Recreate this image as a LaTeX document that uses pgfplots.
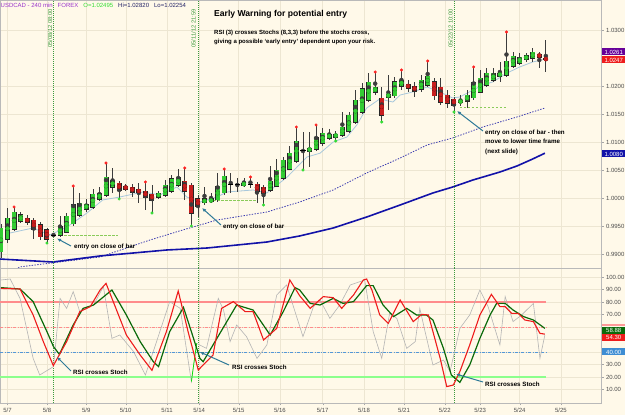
\documentclass[border=0pt]{standalone}
\usepackage{pgfplots}
\pgfplotsset{compat=1.18}
\usepackage{pgfplotstable}
\usepackage{fontspec}
\setmainfont{Liberation Sans}
\usetikzlibrary{arrows.meta}

\definecolor{bg}{HTML}{FFF9E9}
\definecolor{gridc}{HTML}{EDE6D2}
\definecolor{bull}{HTML}{33CC33}
\definecolor{bear}{HTML}{C81E1E}
\definecolor{wick}{HTML}{3C3C3C}
\definecolor{mafast}{HTML}{A8C8DC}
\definecolor{mamid}{HTML}{3A3AB0}
\definecolor{maslow}{HTML}{1212A8}
\definecolor{entryc}{HTML}{8ACB5A}
\definecolor{vline}{HTML}{3C9A3C}
\definecolor{arrowc}{HTML}{2E7A98}
\definecolor{hdrpurple}{HTML}{9933CC}
\definecolor{hdrgreen}{HTML}{33DD33}
\definecolor{hdrnavy}{HTML}{222266}
\definecolor{rsired}{HTML}{EE1C1C}
\definecolor{stochgreen}{HTML}{0A6A0A}
\definecolor{rawgray}{HTML}{B4B4B4}
\definecolor{hiDot}{HTML}{FF2020}
\definecolor{loDot}{HTML}{33DD33}

% 240-minute USDCAD bars: index, open, high, low, close
\pgfplotstableread{
i o h l c
0 0.99036 0.99536 0.98929 0.99464
1 0.99268 0.99822 0.99196 0.99643
2 0.99446 0.99840 0.99411 0.99750
3 0.99589 0.99750 0.99553 0.99697
4 0.99643 0.99697 0.99518 0.99571
5 0.99607 0.99643 0.99268 0.99429
6 0.99518 0.99571 0.99250 0.99304
7 0.99429 0.99464 0.99196 0.99268
8 0.99339 0.99375 0.99304 0.99339
9 0.99339 0.99679 0.99304 0.99500
10 0.99393 0.99732 0.99375 0.99679
11 0.99536 1.00214 0.99500 0.99875
12 0.99697 1.00090 0.99661 0.99911
13 0.99804 0.99983 0.99750 0.99893
14 0.99840 1.00161 0.99804 1.00071
15 0.99983 1.00196 0.99947 1.00090
16 1.00054 1.00625 1.00018 1.00375
17 1.00196 1.00536 1.00090 1.00322
18 1.00268 1.00304 0.99983 1.00143
19 1.00214 1.00250 1.00125 1.00161
20 1.00196 1.00250 1.00018 1.00107
21 1.00161 1.00268 0.99911 1.00090
22 1.00125 1.00286 0.99786 1.00018
23 1.00071 1.00232 0.99732 0.99965
24 1.00018 1.00125 0.99983 1.00090
25 1.00054 1.00322 1.00018 1.00232
26 1.00125 1.00411 1.00090 1.00340
27 1.00232 1.00518 1.00196 1.00375
28 1.00304 1.00536 0.99965 1.00125
29 1.00232 1.00268 0.99500 0.99732
30 0.99983 1.00054 0.99661 0.99840
31 0.99911 1.00196 0.99875 0.99983
32 0.99929 1.00090 0.99911 0.99983
33 0.99965 1.00447 0.99929 1.00214
34 1.00090 1.00518 1.00054 1.00393
35 1.00250 1.00447 1.00090 1.00250
36 1.00250 1.00357 1.00107 1.00250
37 1.00232 1.00357 1.00196 1.00268
38 1.00250 1.00375 1.00179 1.00250
39 1.00250 1.00286 0.99911 1.00125
40 1.00196 1.00232 0.99875 1.00090
41 1.00143 1.00572 1.00107 1.00304
42 1.00214 1.00697 1.00196 1.00500
43 1.00357 1.00732 1.00322 1.00679
44 1.00518 1.00929 1.00500 1.00804
45 1.00661 1.01268 1.00625 1.01018
46 1.00857 1.01179 1.00500 1.00857
47 1.00839 1.01179 1.00554 1.00893
48 1.00875 1.01304 1.00839 1.01089
49 1.00982 1.01250 1.00929 1.01161
50 1.01071 1.01232 1.01036 1.01143
51 1.01089 1.01196 1.01018 1.01143
52 1.01125 1.01536 1.01089 1.01268
53 1.01196 1.01536 1.01161 1.01482
54 1.01357 1.01929 1.01322 1.01750
55 1.01536 1.02054 1.01500 1.01947
56 1.01750 1.02232 1.01714 1.02072
57 1.01893 1.02250 1.01839 1.01982
58 1.01786 1.01982 1.01357 1.01482
59 1.01804 1.02197 1.01572 1.01857
60 1.01822 1.02161 1.01786 1.02072
61 1.02000 1.02286 1.01929 1.02107
62 1.02036 1.02107 1.01893 1.01964
63 1.02000 1.02072 1.01804 1.01911
64 1.01947 1.02197 1.01893 1.02107
65 1.02018 1.02447 1.01982 1.02179
66 1.02072 1.02143 1.01750 1.01822
67 1.01982 1.02143 1.01661 1.01714
68 1.01839 1.01929 1.01607 1.01697
69 1.01768 1.01804 1.01536 1.01661
70 1.01714 1.01839 1.01643 1.01732
71 1.01732 1.01929 1.01607 1.01839
72 1.01786 1.02340 1.01750 1.02054
73 1.01893 1.02286 1.01875 1.02143
74 1.02018 1.02322 1.01982 1.02232
75 1.02107 1.02322 1.02072 1.02232
76 1.02179 1.02429 1.02072 1.02232
77 1.02197 1.02964 1.02161 1.02447
78 1.02357 1.02607 1.02322 1.02536
79 1.02411 1.02589 1.02375 1.02518
80 1.02482 1.02589 1.02429 1.02536
81 1.02500 1.02679 1.02429 1.02607
82 1.02572 1.02607 1.02322 1.02518
83 1.02495 1.02820 1.02254 1.02470
}\candles

% fractal highs and lows
\pgfplotstableread{
i p
2 0.99840
11 1.00214
16 1.00625
22 1.00286
28 1.00536
34 1.00518
38 1.00375
45 1.01268
48 1.01304
57 1.02250
61 1.02286
65 1.02447
72 1.02340
77 1.02964
}\fracHigh
\pgfplotstableread{
i p
7 0.99196
18 0.99983
23 0.99732
29 0.99500
40 0.99875
46 1.00500
51 1.01018
58 1.01357
69 1.01536
}\fracLow

% moving averages
\pgfplotstableread{
i p
1.37 0.99375
4.87 0.99464
7.46 0.99339
10.05 0.99482
13.1 0.99732
15.5 0.99965
18.1 1.00018
21.6 1.00107
24.2 1.00054
26.8 1.00196
28.3 1.00018
30.3 0.99929
32.9 1.00018
34.4 1.00107
38.4 1.00143
40.5 1.00090
43.6 1.00375
46.6 1.00732
48.6 1.00800
50.6 1.01000
52.7 1.01089
54.2 1.01304
55.7 1.01607
57.7 1.01768
59.7 1.01714
60.8 1.01839
62.7 1.01893
64.9 1.01982
66.9 1.01893
68.8 1.01786
69.9 1.01804
71.9 1.01929
73.4 1.02018
74.9 1.02072
77.1 1.02232
79.0 1.02339
81.0 1.02429
83.0 1.02482
}\maFast
\pgfplotstableread{
i p
2.6 0.98750
2.9 0.98770
15.1 0.98947
22.7 0.99250
27.7 0.99429
32.9 0.99607
40.5 0.99750
45.5 0.99929
50.6 1.00143
55.7 1.00447
60.8 1.00714
64.9 1.00947
68.8 1.01072
73.4 1.01268
78.6 1.01447
82.85 1.01607
}\maMid
\pgfplotstableread{
i p
-0.15 0.98910
7.9 0.98857
15.1 0.98965
25.3 0.99072
31.4 0.99107
40.5 0.99214
45.5 0.99322
50.6 0.99464
55.7 0.99660
60.8 0.99875
65.8 1.00090
68.8 1.00196
71.9 1.00322
76.0 1.00464
78.6 1.00572
81.0 1.00697
82.85 1.00800
}\maSlow

% oscillators
\pgfplotstableread{
i v
0 90.9
2.9 90.4
4.9 69.6
6.45 48.3
7.97 29.1
10.0 48.3
12.0 72.3
13.6 76.3
15.1 89.6
16.0 94.9
17.1 80.3
19.1 53.6
21.2 37.6
23.0 25.3
25.2 56.3
27.0 88.8
28.5 56.3
30.05 25.6
32.3 37.6
33.6 74.9
35.4 80.3
37.2 72.3
38.4 72.3
40.0 49.6
42.0 58.9
44.0 97.6
45.5 85.0
47.1 74.9
49.1 84.3
50.6 83.5
51.9 74.9
53.7 85.6
55.2 97.6
55.7 98.4
56.5 89.6
57.7 69.6
59.0 62.9
60.8 81.6
62.8 64.3
64.1 70.1
65.1 69.6
65.8 56.3
66.9 34.9
67.9 12.3
68.9 13.6
69.9 24.3
71.4 45.6
72.95 69.6
74.7 86.1
76.0 76.3
76.8 76.3
77.8 70.9
78.8 70.9
79.8 65.6
81.1 64.3
82.1 54.9
82.85 54.3
}\rsiK
\pgfplotstableread{
i v
0 91.5
2.9 90.4
4.9 80.3
7.0 56.3
8.0 44.3
8.9 38.1
11.0 61.6
12.5 74.9
14.1 77.6
16.9 89.6
19.1 69.6
21.2 48.3
23.2 32.3
24.0 28.3
25.7 56.3
27.8 75.7
29.0 56.3
30.3 34.9
30.8 32.3
34.4 64.3
35.9 77.6
38.4 73.6
41.0 53.6
43.0 72.3
44.8 91.5
45.5 89.6
47.1 78.9
48.6 77.6
50.6 82.9
52.1 78.9
53.7 80.3
55.7 93.1
56.7 93.1
58.2 77.6
59.8 68.3
61.8 74.9
63.3 69.6
64.8 69.6
65.8 65.6
67.4 42.9
68.6 21.6
69.9 15.7
71.4 29.6
72.95 50.9
74.5 69.6
75.5 78.9
76.8 78.9
78.0 73.6
79.6 68.3
81.1 65.6
82.85 58.9
}\stochD
\pgfplotstableread{
i v
0 97.6
1.4 98.4
2.9 82.9
4.9 34.9
5.9 21.6
8.0 28.3
9.0 82.9
10.0 74.9
11.0 88.3
12.0 72.3
14.1 77.6
15.6 92.3
16.9 50.9
18.1 53.6
20.2 40.3
22.0 21.6
23.7 48.3
25.7 80.3
27.3 74.9
29.0 16.3
29.8 46.9
31.3 42.9
33.1 82.9
33.9 73.6
34.9 48.3
35.9 61.6
37.4 52.3
39.0 34.9
40.5 45.6
42.0 85.6
43.5 93.6
46.0 52.3
47.6 76.3
48.6 81.6
50.1 66.9
51.6 77.6
53.2 93.6
55.4 97.6
56.7 56.3
58.0 34.9
59.2 70.9
60.3 66.9
61.8 42.9
63.1 48.3
63.8 74.9
64.6 56.3
65.8 29.6
67.4 33.6
68.4 24.3
69.9 58.9
71.4 69.6
72.95 89.6
74.2 76.3
76.0 45.6
76.8 84.3
78.0 64.3
79.3 69.6
81.1 78.9
82.1 34.9
82.85 53.6
}\rsiRaw

\pgfplotsset{
  panel/.style={
    scale only axis, width=601pt,
    xmin=-0.15, xmax=91.4,
    axis background/.style={fill=bg},
    axis line style={draw=gray!55},
    grid=major, major grid style={gridc, line width=0.4pt},
    ytick pos=right, yticklabel pos=right,
    tick align=outside, major tick length=2.5pt,
    tick style={gray!70},
    xtick={1,7,13,19,25.3,30.2,36.2,42.5,49,55.3,61.4,67.6,73,79,85.3},
    scaled y ticks=false,
    y tick label style={font=\fontsize{6}{7}\selectfont, text=black!70, xshift=-1pt},
    x tick label style={font=\fontsize{6}{7}\selectfont, text=black!70},
  },
}
\tikzset{signal/.style={vline, line width=0.7pt, dash pattern=on 1pt off 1pt}}

\begin{document}
\begin{tikzpicture}
\useasboundingbox (0,0) rectangle (625pt,415pt);
\fill[bg] (0,0) rectangle (625pt,415pt);

% ---------- price panel ----------
\begin{axis}[panel,
  at={(0pt,147pt)}, anchor=south west, height=268pt,
  ymin=0.98750, ymax=1.03536,
  ytick={0.990,0.995,1.000,1.005,1.010,1.015,1.020,1.030},
  yticklabel style={/pgf/number format/.cd, fixed, fixed zerofill, precision=4, assume math mode=true},
  xticklabels={}, xtick style={draw=none},
]
  % moving averages
  \addplot[mafast, line width=0.8pt] table[x=i, y=p] {\maFast};
  \addplot[mamid, line width=0.8pt, dash pattern=on 1.4pt off 1.4pt] table[x=i, y=p] {\maMid};
  \addplot[maslow, line width=1.6pt] table[x=i, y=p] {\maSlow};

  % entry levels
  \draw[entryc, line width=0.9pt, dash pattern=on 2.5pt off 1.5pt] (axis cs:9,0.99339) -- (axis cs:17.8,0.99339);
  \draw[entryc, line width=0.9pt, dash pattern=on 2.5pt off 1.5pt] (axis cs:32.3,0.99965) -- (axis cs:39,0.99965);
  \draw[entryc, line width=0.9pt, dash pattern=on 2.5pt off 1.5pt] (axis cs:69.9,1.01625) -- (axis cs:77.2,1.01625);

  % signal bars
  \draw[signal] (axis cs:8,0.9875) -- (axis cs:8,1.03536);
  \draw[signal] (axis cs:30,0.9875) -- (axis cs:30,1.03536);
  \draw[signal] (axis cs:69,0.9875) -- (axis cs:69,1.03536);

  % wicks
  \addplot[only marks, mark=none, wick, error bars/.cd, y dir=both, y explicit, error mark=none,
    error bar style={line width=0.75pt, wick}]
    table[x=i, y expr={(\thisrow{h}+\thisrow{l})/2}, y error expr={(\thisrow{h}-\thisrow{l})/2}] {\candles};
  % body outlines
  \addplot[only marks, mark=none, black, error bars/.cd, y dir=both, y explicit, error mark=none,
    error bar style={line width=5pt, black!85}]
    table[x=i, y expr={abs(\thisrow{c}-\thisrow{o})>0.00003 ? (\thisrow{o}+\thisrow{c})/2 : nan},
          y error expr={abs(\thisrow{c}-\thisrow{o})/2+0.00009}] {\candles};
  % rising bodies
  \addplot[only marks, mark=none, bull, error bars/.cd, y dir=both, y explicit, error mark=none,
    error bar style={line width=3.8pt, bull}]
    table[x=i, y expr={\thisrow{c}-\thisrow{o}>0.00003 ? (\thisrow{o}+\thisrow{c})/2 : nan},
          y error expr={abs(\thisrow{c}-\thisrow{o})/2}] {\candles};
  % falling bodies
  \addplot[only marks, mark=none, bear, error bars/.cd, y dir=both, y explicit, error mark=none,
    error bar style={line width=3.8pt, bear}]
    table[x=i, y expr={\thisrow{o}-\thisrow{c}>0.00003 ? (\thisrow{o}+\thisrow{c})/2 : nan},
          y error expr={abs(\thisrow{c}-\thisrow{o})/2}] {\candles};
  % dojis
  \addplot[only marks, mark=-, mark size=2.6pt, mark options={line width=1pt, black}]
    table[x=i, y expr={abs(\thisrow{c}-\thisrow{o})<=0.00003 ? \thisrow{o} : nan}] {\candles};

  % fractals
  \addplot[only marks, mark=*, mark size=1.3pt, hiDot] table[x=i, y=p] {\fracHigh};
  \addplot[only marks, mark=*, mark size=1.3pt, loDot] table[x=i, y=p] {\fracLow};
\end{axis}

% ---------- oscillator panel ----------
\begin{axis}[panel,
  at={(0pt,12pt)}, anchor=south west, height=135pt,
  ymin=-0.8, ymax=107.2,
  ytick={10,20,...,100},
  yticklabels={10.00,20.00,30.00,40.00,,,70.00,80.00,90.00,100.00},
  xticklabels={5/7,5/8,5/9,5/10,5/11,5/14,5/15,5/16,5/17,5/18,5/21,5/22,5/23,5/24,5/25},
  xtick pos=bottom, x tick label style={yshift=1pt},
]
  \draw[red!45, line width=1.3pt] (axis cs:-0.15,80) -- (axis cs:83,80);
  \draw[red!45, line width=0.5pt, dash pattern=on 3pt off 1.5pt on 0.6pt off 1.5pt] (axis cs:-0.15,60) -- (axis cs:83,60);
  \draw[cyan!60!blue!70, line width=0.6pt, dash pattern=on 3pt off 1.5pt on 0.6pt off 1.5pt] (axis cs:-0.15,40) -- (axis cs:83,40);
  \draw[green!45, line width=2pt] (axis cs:-0.15,20) -- (axis cs:83,20);

  \draw[signal] (axis cs:8,-0.8) -- (axis cs:8,107.2);
  \draw[signal] (axis cs:30,-0.8) -- (axis cs:30,107.2);
  \draw[signal] (axis cs:69,-0.8) -- (axis cs:69,107.2);

  \addplot[rawgray, line width=0.6pt] table[x=i, y=v] {\rsiRaw};
  \addplot[green!80!black!60!green, line width=0.7pt] coordinates {(29.0,16.3) (29.8,46.9)};
  \addplot[stochgreen, line width=1.2pt] table[x=i, y=v] {\stochD};
  \addplot[rsired, line width=1.1pt] table[x=i, y=v] {\rsiK};
\end{axis}

% ---------- notes and labels ----------
\begin{scope}[x=1pt, y=-1pt, shift={(0pt,415pt)}]
  \node[anchor=west, inner sep=0pt, font=\fontsize{6}{7}\selectfont] at (0.5,5)
    {\color{hdrpurple}USDCAD - 240 min\hspace{5pt}FOREX\hspace{5pt}\color{hdrgreen}O=1.02495\hspace{5pt}\color{hdrnavy}Hi=1.02820\hspace{5pt}Lo=1.02254};

  \node[anchor=west, inner sep=0pt, font=\fontsize{8.6}{10}\bfseries] at (214,14) {Early Warning for potential entry};
  \node[anchor=north west, inner sep=0pt, align=left, font=\fontsize{6}{9}\bfseries\selectfont] at (214,29.5)
    {RSI (3) crosses Stochs (8,3,3) before the stochs cross,\\giving a possible `early entry' dependent upon your risk.};

  \begin{scope}[every node/.style={rotate=90, anchor=east, inner sep=0pt, text=vline, font=\fontsize{5.8}{7}\selectfont}]
    \node at (50,9) {05/08/12 08:00};
    \node at (193.5,9) {05/11/12 21:59};
    \node at (450.5,9) {05/22/12 10:00};
  \end{scope}

  \begin{scope}[font=\fontsize{6.2}{9.2}\bfseries\selectfont]
    \node[anchor=west, inner sep=0pt] at (74,247) {entry on close of bar};
    \node[anchor=west, inner sep=0pt] at (223,227) {entry on close of bar};
    \node[anchor=north west, inner sep=0pt, align=left] at (485,130) {entry on close of bar - then\\move to lower time frame\\(next slide)};
    \node[anchor=west, inner sep=0pt] at (73,372) {RSI crosses Stoch};
    \node[anchor=west, inner sep=0pt] at (232,367) {RSI crosses Stoch};
    \node[anchor=west, inner sep=0pt] at (485,384) {RSI crosses Stoch};
  \end{scope}

  \begin{scope}[arrowc, line width=1pt, -{Latex[length=4pt,width=3.5pt]}]
    \draw (71,246) -- (57,238.5);
    \draw (221,225) -- (202,208);
    \draw (483,131) -- (457,111);
    \draw (71,371) -- (57,357);
    \draw (229,365) -- (200,352);
    \draw (483,382) -- (456,374);
  \end{scope}

  \begin{scope}[font=\fontsize{6}{7}\selectfont, text=white, inner sep=0pt, anchor=west, minimum height=7pt, minimum width=23pt]
    \node[fill=violet!80!blue] at (602,52) {1.0261};
    \node[fill=rsired] at (602,60) {1.0247};
    \node[fill=maslow] at (602,154) {1.0080};
    \fill[red!40] (602,324.5) rectangle (625,326.5);
    \node[fill=stochgreen] at (602,330.2) {58.88};
    \node[fill=rsired] at (602,337.4) {54.30};
    \node[fill=cyan!60!blue!80] at (602,352) {40.00};
  \end{scope}
\end{scope}
\end{tikzpicture}
\end{document}
